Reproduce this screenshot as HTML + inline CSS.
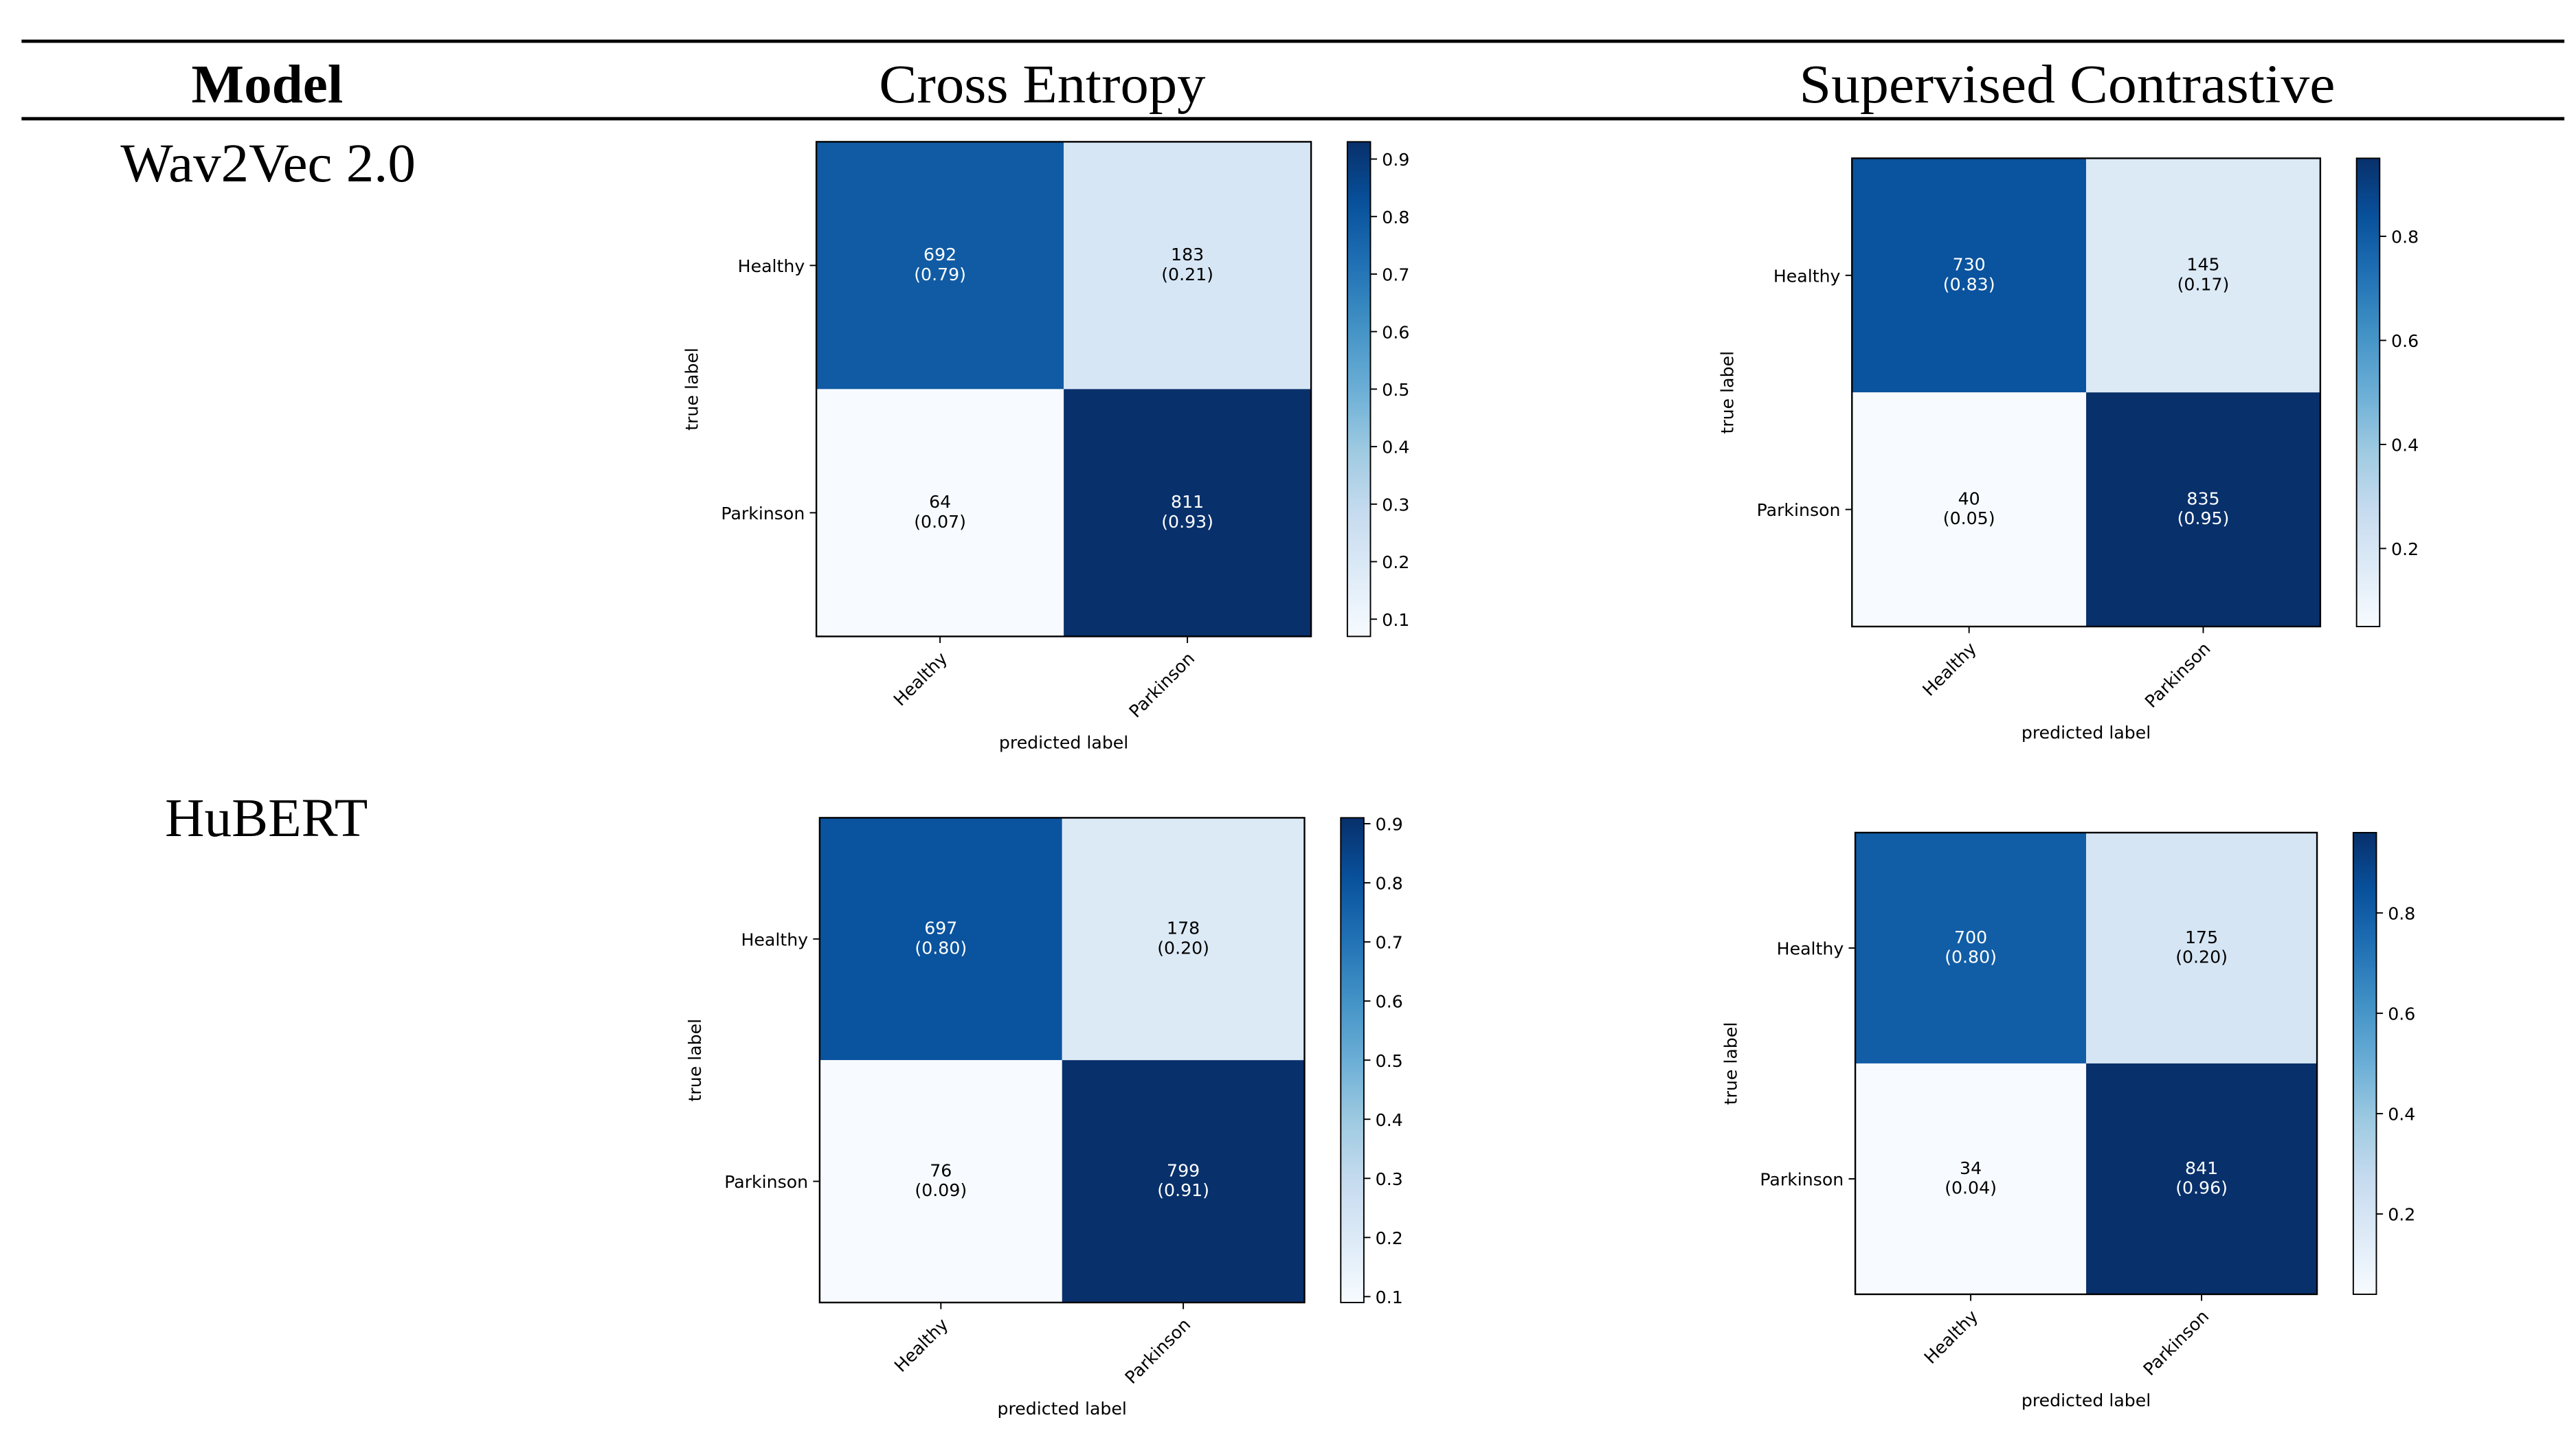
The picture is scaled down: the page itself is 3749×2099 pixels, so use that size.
<!DOCTYPE html>
<html><head><meta charset="utf-8"><style>
html,body{margin:0;padding:0;background:#fff;}
svg{display:block;}
.hdr{font-family:"Liberation Serif",serif;font-size:33px;fill:#000;}
.ax{font-family:"DejaVu Sans","Liberation Sans",sans-serif;font-size:10.5px;fill:#000;}
.cell{font-family:"DejaVu Sans","Liberation Sans",sans-serif;font-size:10.5px;}
</style></head><body>
<svg id="fig" width="3749" height="2099" viewBox="0 0 1562 874.6" xmlns="http://www.w3.org/2000/svg">
<line x1="13" y1="25" x2="1555" y2="25" stroke="#000" stroke-width="2"/>
<line x1="13" y1="72" x2="1555" y2="72" stroke="#000" stroke-width="2"/>
<text class="hdr" x="116" y="62" textLength="92" lengthAdjust="spacingAndGlyphs" font-weight="bold">Model</text>
<text class="hdr" x="533" y="62" textLength="198" lengthAdjust="spacingAndGlyphs">Cross Entropy</text>
<text class="hdr" x="1091" y="62" textLength="325" lengthAdjust="spacingAndGlyphs">Supervised Contrastive</text>
<text class="hdr" x="73" y="110" textLength="179" lengthAdjust="spacingAndGlyphs">Wav2Vec 2.0</text>
<text class="hdr" x="100" y="507" textLength="123" lengthAdjust="spacingAndGlyphs">HuBERT</text>
<g id="charts"></g>
</svg>
<script>
const classes = ["Healthy","Parkinson"];
const countsW2vCE = [[692,183],[64,811]];
const normW2vCE = [[0.79,0.21],[0.07,0.93]];
const ticksW2vCE = [0.1,0.2,0.3,0.4,0.5,0.6,0.7,0.8,0.9];
const rangeW2vCE = [0.07,0.93];
const countsW2vSC = [[730,145],[40,835]];
const normW2vSC = [[0.83,0.17],[0.05,0.95]];
const ticksW2vSC = [0.2,0.4,0.6,0.8];
const rangeW2vSC = [0.05,0.95];
const countsHubCE = [[697,178],[76,799]];
const normHubCE = [[0.80,0.20],[0.09,0.91]];
const ticksHubCE = [0.1,0.2,0.3,0.4,0.5,0.6,0.7,0.8,0.9];
const rangeHubCE = [0.09,0.91];
const countsHubSC = [[700,175],[34,841]];
const normHubSC = [[0.80,0.20],[0.04,0.96]];
const ticksHubSC = [0.2,0.4,0.6,0.8];
const rangeHubSC = [0.04,0.96];

const NS="http://www.w3.org/2000/svg";
const blues=["#f7fbff","#deebf7","#c6dbef","#9ecae1","#6baed6","#4292c6","#2171b5","#08519c","#08306b"];
function hex(h){return [1,3,5].map(i=>parseInt(h.substr(i,2),16));}
function cmap(t){t=Math.max(0,Math.min(1,t));const p=t*8,i=Math.min(7,Math.floor(p)),f=p-i;
 const a=hex(blues[i]),b=hex(blues[i+1]);return "rgb("+a.map((v,k)=>Math.round(v+(b[k]-v)*f)).join(",")+")";}
function mk(tag,attrs,parent,txt){const e=document.createElementNS(NS,tag);for(const k in attrs)e.setAttribute(k,attrs[k]);if(txt!==undefined)e.textContent=txt;parent.appendChild(e);return e;}
const root=document.getElementById('charts');
let gid=0;
function chart(name,L,T,S,cbX,counts,norm,ticks,range){
 const g=mk('g',{},root);
 
 
 const cw=S/classes.length;
 const xs=j=>L+j*cw, ys=i=>T+i*cw;
 const t=v=>(v-range[0])/(range[1]-range[0]);
 for(let i=0;i<2;i++)for(let j=0;j<2;j++){
  const v=norm[i][j];
  const r=mk('rect',{x:xs(j),y:ys(i),width:cw,height:cw,fill:cmap(t(v))},g);
  
  
  const col=t(v)>0.5?"#fff":"#000";
  const tx=mk('text',{class:'cell',x:xs(j)+cw/2,y:ys(i)+cw/2-3,'text-anchor':'middle',fill:col},g,String(counts[i][j]));
  
  
  const tv=mk('text',{class:'cell',x:xs(j)+cw/2,y:ys(i)+cw/2+9,'text-anchor':'middle',fill:col},g,"("+v.toFixed(2)+")");
  
  
 }
 mk('rect',{x:L,y:T,width:S,height:S,fill:'none',stroke:'#000','stroke-width':1},g);
 classes.forEach((c,i)=>{
  const cy=ys(i)+cw/2;
  mk('line',{x1:L-4,y1:cy,x2:L,y2:cy,stroke:'#000','stroke-width':0.8},g);
  const yl=mk('text',{class:'ax',x:L-7,y:cy+4,'text-anchor':'end'},g,c);
  
  
  const cx=xs(i)+cw/2;
  mk('line',{x1:cx,y1:T+S,x2:cx,y2:T+S+4,stroke:'#000','stroke-width':0.8},g);
  const xl=mk('text',{class:'ax',x:cx+5,y:T+S+14,'text-anchor':'end',transform:'rotate(-45 '+(cx+5)+' '+(T+S+14)+')'},g,c);
  
  
 });
 const yt=mk('text',{class:'ax',x:L-72,y:T+S/2,'text-anchor':'middle',transform:'rotate(-90 '+(L-72)+' '+(T+S/2)+')'},g,'true label');
 
 
 const xt=mk('text',{class:'ax',x:L+S/2,y:T+S+68,'text-anchor':'middle'},g,'predicted label');
 
 
 const id='grad'+(gid++);
 const defs=mk('defs',{},g);
 const lg=mk('linearGradient',{id:id,x1:0,y1:1,x2:0,y2:0},defs);
 blues.forEach((b,k)=>mk('stop',{offset:(k/8),'stop-color':b},lg));
 const cb=mk('rect',{x:cbX,y:T,width:14,height:S,fill:'url(#'+id+')',stroke:'#000','stroke-width':0.8},g);
 
 
 const cy=v=>T+S-t(v)*S;
 ticks.forEach(v=>{
  mk('line',{x1:cbX+14,y1:cy(v),x2:cbX+18,y2:cy(v),stroke:'#000','stroke-width':0.8},g);
  const tl=mk('text',{class:'ax',x:cbX+21,y:cy(v)+4},g,v.toFixed(1));
  
  
 });
}
chart('cm-wav2vec-ce',495,86,300,817,countsW2vCE,normW2vCE,ticksW2vCE,rangeW2vCE);
chart('cm-wav2vec-supcon',1123,96,284,1429,countsW2vSC,normW2vSC,ticksW2vSC,rangeW2vSC);
chart('cm-hubert-ce',497,496,294,813,countsHubCE,normHubCE,ticksHubCE,rangeHubCE);
chart('cm-hubert-supcon',1125,505,280,1427,countsHubSC,normHubSC,ticksHubSC,rangeHubSC);
</script>
</body></html>
